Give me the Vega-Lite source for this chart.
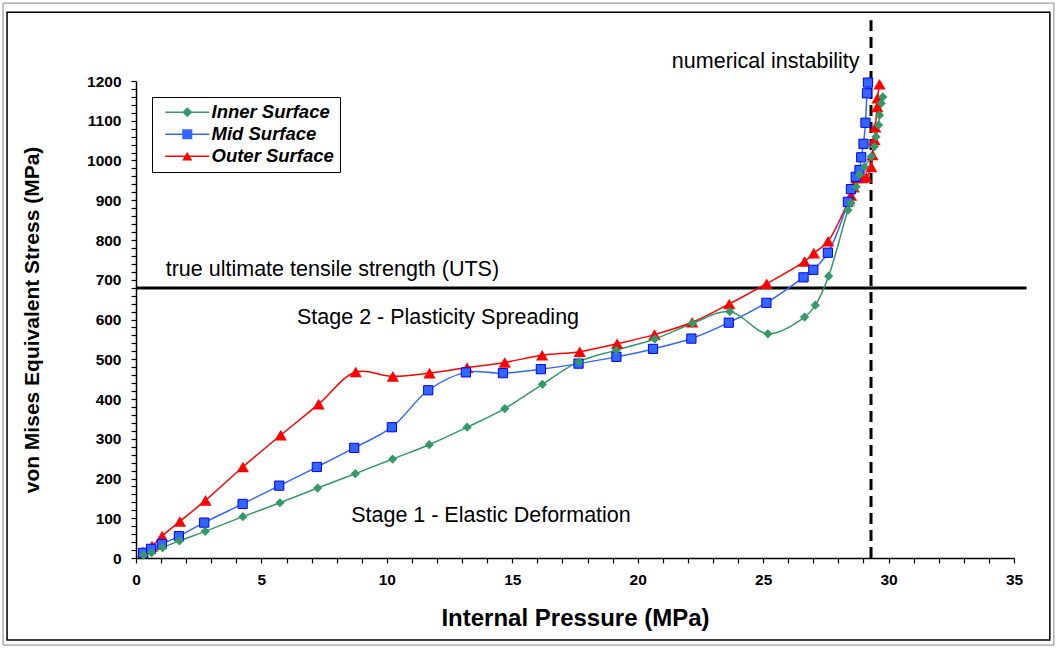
{
  "$schema": "https://vega.github.io/schema/vega-lite/v6.json",
  "width": 878,
  "height": 477,
  "autosize": {"type": "none"},
  "padding": {"left": 136, "top": 81, "right": 43, "bottom": 90},
  "background": "white",
  "config": {
    "view": {"stroke": null},
    "font": "Liberation Sans",
    "axis": {
      "grid": false, "domainColor": "black", "domainWidth": 1.5, "tickColor": "black", "tickWidth": 1.2, "tickSize": 5,
      "labelColor": "black", "labelFont": "Liberation Sans", "labelFontSize": 15.5, "labelFontWeight": "bold",
      "titleColor": "black", "titleFont": "Liberation Sans", "titleFontWeight": "bold",
      "labelOverlap": false, "labelFlush": false, "labelBound": false
    }
  },
  "datasets": {
    "curves": [
      {"series": "Outer Surface", "p": 0.28, "s": 15},
      {"series": "Outer Surface", "p": 0.64, "s": 30},
      {"series": "Outer Surface", "p": 1.04, "s": 55},
      {"series": "Outer Surface", "p": 1.75, "s": 92},
      {"series": "Outer Surface", "p": 2.77, "s": 145},
      {"series": "Outer Surface", "p": 4.26, "s": 229},
      {"series": "Outer Surface", "p": 5.77, "s": 309},
      {"series": "Outer Surface", "p": 7.28, "s": 387},
      {"series": "Outer Surface", "p": 8.76, "s": 468},
      {"series": "Outer Surface", "p": 10.24, "s": 457},
      {"series": "Outer Surface", "p": 11.7, "s": 465},
      {"series": "Outer Surface", "p": 13.2, "s": 479},
      {"series": "Outer Surface", "p": 14.7, "s": 492},
      {"series": "Outer Surface", "p": 16.19, "s": 510},
      {"series": "Outer Surface", "p": 17.69, "s": 519},
      {"series": "Outer Surface", "p": 19.18, "s": 539},
      {"series": "Outer Surface", "p": 20.67, "s": 562},
      {"series": "Outer Surface", "p": 22.17, "s": 593},
      {"series": "Outer Surface", "p": 23.65, "s": 639},
      {"series": "Outer Surface", "p": 25.14, "s": 690},
      {"series": "Outer Surface", "p": 26.65, "s": 746},
      {"series": "Outer Surface", "p": 27.02, "s": 767},
      {"series": "Outer Surface", "p": 27.59, "s": 797},
      {"series": "Outer Surface", "p": 28.41, "s": 900},
      {"series": "Outer Surface", "p": 28.5, "s": 912},
      {"series": "Outer Surface", "p": 28.61, "s": 933},
      {"series": "Outer Surface", "p": 28.71, "s": 956},
      {"series": "Outer Surface", "p": 28.95, "s": 956},
      {"series": "Outer Surface", "p": 29.11, "s": 958},
      {"series": "Outer Surface", "p": 29.31, "s": 984},
      {"series": "Outer Surface", "p": 29.36, "s": 1014},
      {"series": "Outer Surface", "p": 29.44, "s": 1052},
      {"series": "Outer Surface", "p": 29.47, "s": 1084},
      {"series": "Outer Surface", "p": 29.55, "s": 1135},
      {"series": "Outer Surface", "p": 29.56, "s": 1157},
      {"series": "Outer Surface", "p": 29.64, "s": 1192},
      {"series": "Mid Surface", "p": 0.28, "s": 13},
      {"series": "Mid Surface", "p": 0.6, "s": 23},
      {"series": "Mid Surface", "p": 1.03, "s": 35},
      {"series": "Mid Surface", "p": 1.71, "s": 55},
      {"series": "Mid Surface", "p": 2.72, "s": 89},
      {"series": "Mid Surface", "p": 4.25, "s": 136},
      {"series": "Mid Surface", "p": 5.71, "s": 182},
      {"series": "Mid Surface", "p": 7.21, "s": 229},
      {"series": "Mid Surface", "p": 8.7, "s": 277},
      {"series": "Mid Surface", "p": 10.2, "s": 329},
      {"series": "Mid Surface", "p": 11.65, "s": 422},
      {"series": "Mid Surface", "p": 13.15, "s": 467},
      {"series": "Mid Surface", "p": 14.63, "s": 465},
      {"series": "Mid Surface", "p": 16.14, "s": 475},
      {"series": "Mid Surface", "p": 17.64, "s": 489},
      {"series": "Mid Surface", "p": 19.15, "s": 506},
      {"series": "Mid Surface", "p": 20.61, "s": 526},
      {"series": "Mid Surface", "p": 22.14, "s": 552},
      {"series": "Mid Surface", "p": 23.63, "s": 592},
      {"series": "Mid Surface", "p": 25.13, "s": 642},
      {"series": "Mid Surface", "p": 26.61, "s": 706},
      {"series": "Mid Surface", "p": 27.0, "s": 725},
      {"series": "Mid Surface", "p": 27.58, "s": 768},
      {"series": "Mid Surface", "p": 28.38, "s": 896},
      {"series": "Mid Surface", "p": 28.5, "s": 928},
      {"series": "Mid Surface", "p": 28.69, "s": 959},
      {"series": "Mid Surface", "p": 28.84, "s": 976},
      {"series": "Mid Surface", "p": 28.91, "s": 1008},
      {"series": "Mid Surface", "p": 29.0, "s": 1042},
      {"series": "Mid Surface", "p": 29.08, "s": 1095},
      {"series": "Mid Surface", "p": 29.14, "s": 1169},
      {"series": "Mid Surface", "p": 29.18, "s": 1196},
      {"series": "Inner Surface", "p": 0.3, "s": 7},
      {"series": "Inner Surface", "p": 0.62, "s": 13},
      {"series": "Inner Surface", "p": 1.06, "s": 26},
      {"series": "Inner Surface", "p": 1.73, "s": 43},
      {"series": "Inner Surface", "p": 2.76, "s": 67},
      {"series": "Inner Surface", "p": 4.26, "s": 104},
      {"series": "Inner Surface", "p": 5.74, "s": 139},
      {"series": "Inner Surface", "p": 7.24, "s": 176},
      {"series": "Inner Surface", "p": 8.74, "s": 212},
      {"series": "Inner Surface", "p": 10.23, "s": 249},
      {"series": "Inner Surface", "p": 11.69, "s": 285},
      {"series": "Inner Surface", "p": 13.2, "s": 329},
      {"series": "Inner Surface", "p": 14.7, "s": 376},
      {"series": "Inner Surface", "p": 16.2, "s": 437},
      {"series": "Inner Surface", "p": 17.66, "s": 494},
      {"series": "Inner Surface", "p": 19.15, "s": 523},
      {"series": "Inner Surface", "p": 20.68, "s": 551},
      {"series": "Inner Surface", "p": 22.18, "s": 590},
      {"series": "Inner Surface", "p": 23.67, "s": 620},
      {"series": "Inner Surface", "p": 25.19, "s": 564},
      {"series": "Inner Surface", "p": 26.65, "s": 606},
      {"series": "Inner Surface", "p": 27.08, "s": 636},
      {"series": "Inner Surface", "p": 27.61, "s": 709},
      {"series": "Inner Surface", "p": 28.38, "s": 875},
      {"series": "Inner Surface", "p": 28.5, "s": 893},
      {"series": "Inner Surface", "p": 28.71, "s": 934},
      {"series": "Inner Surface", "p": 28.84, "s": 964},
      {"series": "Inner Surface", "p": 29.04, "s": 984},
      {"series": "Inner Surface", "p": 29.31, "s": 1010},
      {"series": "Inner Surface", "p": 29.44, "s": 1035},
      {"series": "Inner Surface", "p": 29.5, "s": 1060},
      {"series": "Inner Surface", "p": 29.6, "s": 1089},
      {"series": "Inner Surface", "p": 29.64, "s": 1114},
      {"series": "Inner Surface", "p": 29.71, "s": 1144},
      {"series": "Inner Surface", "p": 29.77, "s": 1160}
    ],
    "notes": [
      {"label": "numerical instability", "p": 25.1, "s": 1248},
      {"label": "true ultimate tensile strength (UTS)", "p": 7.83, "s": 724},
      {"label": "Stage 2 - Plasticity Spreading", "p": 12.04, "s": 604},
      {"label": "Stage 1 - Elastic Deformation", "p": 14.15, "s": 106}
    ]
  },
  "encoding": {
    "x": {
      "field": "p", "type": "quantitative",
      "scale": {"domain": [0, 35], "nice": false, "zero": false},
      "axis": {
        "title": "Internal Pressure (MPa)", "titleFontSize": 24, "titlePadding": 19, "labelPadding": 9,
        "values": [0,1,2,3,4,5,6,7,8,9,10,11,12,13,14,15,16,17,18,19,20,21,22,23,24,25,26,27,28,29,30,31,32,33,34,35],
        "labelExpr": "datum.value % 5 === 0 ? datum.label : ''"
      }
    },
    "y": {
      "field": "s", "type": "quantitative",
      "scale": {"domain": [0, 1200], "nice": false, "zero": false},
      "axis": {
        "title": "von Mises Equivalent Stress (MPa)", "titleFontSize": 21, "titlePadding": 44, "labelPadding": 10, "format": "d",
        "values": [0,20,40,60,80,100,120,140,160,180,200,220,240,260,280,300,320,340,360,380,400,420,440,460,480,500,520,540,560,580,600,620,640,660,680,700,720,740,760,780,800,820,840,860,880,900,920,940,960,980,1000,1020,1040,1060,1080,1100,1120,1140,1160,1180,1200],
        "labelExpr": "datum.value % 100 === 0 ? datum.label : ''"
      }
    }
  },
  "layer": [
    {
      "data": {"values": [{"p": -5.3, "p2": 36.59, "s": -219, "s2": 1396}]},
      "mark": {"type": "rect", "filled": false, "stroke": "#888888", "strokeWidth": 1},
      "encoding": {"x2": {"field": "p2"}, "y2": {"field": "s2"}}
    },
    {
      "data": {"values": [{"p": -5.14, "p2": 36.43, "s": -206, "s2": 1373}]},
      "mark": {"type": "rect", "filled": false, "stroke": "black", "strokeWidth": 1.5},
      "encoding": {"x2": {"field": "p2"}, "y2": {"field": "s2"}}
    },
    {
      "data": {"values": [{"p": 0, "p2": 35.5, "s": 679}]},
      "mark": {"type": "rule", "color": "black", "strokeWidth": 3},
      "encoding": {"x2": {"field": "p2"}}
    },
    {
      "data": {"values": [{"p": 29.3, "s": 0, "s2": 1353}]},
      "mark": {"type": "rule", "color": "black", "strokeWidth": 3, "strokeDash": [11, 6]},
      "encoding": {"y2": {"field": "s2"}}
    },
    {
      "data": {"name": "curves"},
      "mark": {"type": "line", "interpolate": "catmull-rom", "strokeWidth": 1.5},
      "encoding": {
        "stroke": {
          "field": "series", "type": "nominal",
          "scale": {"domain": ["Inner Surface", "Mid Surface", "Outer Surface"], "range": ["#339966", "#3366FF", "#FF0000"]},
          "legend": {
            "orient": "top-left", "offset": 16, "title": null,
            "symbolType": "M-4.4,0H4.4", "symbolSize": 100, "symbolStrokeWidth": 1.5, "symbolOffset": 20,
            "labelFont": "Liberation Sans", "labelFontSize": 18.5, "labelFontWeight": "bold", "labelFontStyle": "italic", "labelColor": "black",
            "labelOffset": 15, "rowPadding": 3, "padding": 6,
            "strokeColor": "black", "fillColor": "white"
          }
        }
      }
    },
    {
      "data": {"name": "curves"},
      "mark": {"type": "point", "filled": true, "opacity": 1, "strokeWidth": 1},
      "encoding": {
        "color": {
          "field": "series", "type": "nominal",
          "scale": {"range": ["#339966", "#3366FF", "#FF0000"]},
          "legend": {
            "orient": "none", "legendX": 16, "legendY": 16, "title": null,
            "symbolSize": 100, "symbolStrokeWidth": 1, "symbolOffset": 20,
            "labelFont": "Liberation Sans", "labelFontSize": 18.5, "labelFontWeight": "bold", "labelFontStyle": "italic", "labelOpacity": 0,
            "labelOffset": 15, "rowPadding": 3, "padding": 6
          }
        },
        "shape": {
          "field": "series", "type": "nominal",
          "scale": {"range": ["diamond", "square", "triangle-up"]},
          "legend": {
            "orient": "none", "legendX": 16, "legendY": 16, "title": null,
            "symbolSize": 100, "symbolStrokeWidth": 1, "symbolOffset": 20,
            "labelFont": "Liberation Sans", "labelFontSize": 18.5, "labelFontWeight": "bold", "labelFontStyle": "italic", "labelOpacity": 0,
            "labelOffset": 15, "rowPadding": 3, "padding": 6
          }
        },
        "size": {"condition": {"test": "datum.series === 'Outer Surface'", "value": 150}, "value": 85},
        "stroke": {"condition": {"test": "datum.series === 'Mid Surface'", "value": "#0000FF"}, "value": "transparent"}
      }
    },
    {
      "data": {"name": "notes"},
      "mark": {"type": "text", "font": "Liberation Sans", "fontSize": 21.5, "color": "black", "align": "center", "baseline": "middle"},
      "encoding": {"text": {"field": "label"}}
    }
  ]
}
